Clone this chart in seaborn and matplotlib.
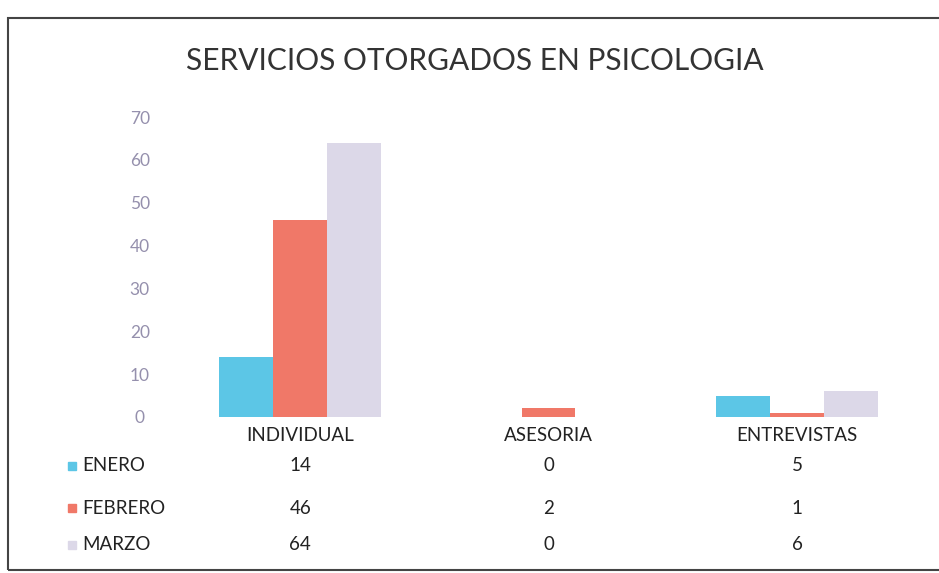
import matplotlib
matplotlib.use("Agg")
import matplotlib.pyplot as plt
import matplotlib.transforms as mtransforms
from matplotlib.patches import Rectangle
import pandas as pd
import seaborn as sns

categories = ["INDIVIDUAL", "ASESORIA", "ENTREVISTAS"]
months = ["ENERO", "FEBRERO", "MARZO"]
enero = [14, 0, 5]
febrero = [46, 2, 1]
marzo = [64, 0, 6]
month_colors = ["#5cc6e6", "#f07868", "#dcd8e8"]
y_ticks = [0, 10, 20, 30, 40, 50, 60, 70]

df = pd.DataFrame({
    "servicio": categories * 3,
    "mes": [m for m in months for _ in categories],
    "valor": enero + febrero + marzo,
})

sns.set_theme(style="white")
plt.rcParams["font.family"] = ["Lato", "DejaVu Sans"]

fig = plt.figure(figsize=(9.39, 5.73), dpi=100)
ax = fig.add_axes([0.1874, 0.2723, 0.7936, 0.5235])

sns.barplot(data=df, x="servicio", y="valor", hue="mes", order=categories,
            hue_order=months, palette=month_colors, width=0.65,
            saturation=1, edgecolor="none", ax=ax)
ax.legend_.remove()

ax.set_ylim(0, 70)
ax.set_yticks(y_ticks)
ax.set_xlabel("")
ax.set_ylabel("")
ax.tick_params(axis="y", labelsize=12.5, labelcolor="#9590ad", length=0, pad=26)
for lab in ax.get_yticklabels():
    lab.set_horizontalalignment("center")
ax.set_xticklabels([])
ax.tick_params(axis="x", length=0)
for s in ax.spines.values():
    s.set_visible(False)

fig.text(0.506, 0.893, "SERVICIOS OTORGADOS EN PSICOLOGIA", ha="center",
         va="center", fontsize=21.5, color="#333333")

# data table under the chart
trans = mtransforms.blended_transform_factory(ax.transData, fig.transFigure)
rows_y = [0.187, 0.113, 0.049]
for i, c in enumerate(categories):
    fig.text(i, 0.240, c, transform=trans, ha="center", va="center",
             fontsize=13.5, color="#222222")
table = [enero, febrero, marzo]
for m, col, vals, y in zip(months, month_colors, table, rows_y):
    fig.patches.append(Rectangle((0.072, y - 0.007), 0.0085, 0.014,
                                 transform=fig.transFigure, color=col))
    fig.text(0.088, y, m, ha="left", va="center", fontsize=13.5, color="#222222")
    for i, v in enumerate(vals):
        fig.text(i, y, str(v), transform=trans, ha="center", va="center",
                 fontsize=13.5, color="#222222")

# frame of the chart area
fig.patches.append(Rectangle((0.009, 0.005), 0.995, 0.963, transform=fig.transFigure,
                             fill=False, edgecolor="#444444", linewidth=1.5))

fig.savefig("out.png", dpi=100)
